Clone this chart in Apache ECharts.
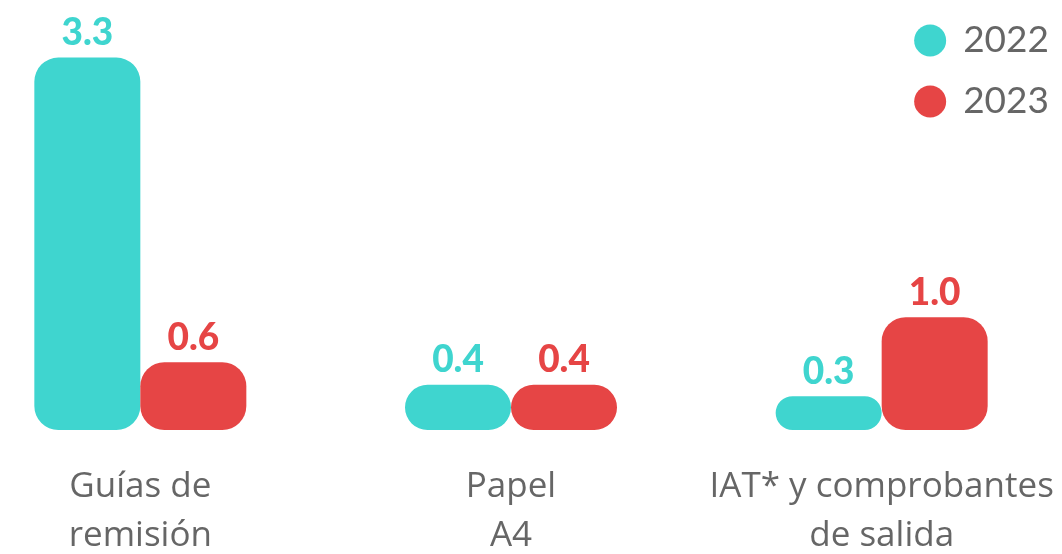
<!DOCTYPE html>
<html>
<head>
<meta charset="utf-8">
<script src="https://cdn.jsdelivr.net/npm/echarts@6/dist/echarts.min.js"></script>
<style>
	html, body { margin: 0; padding: 0; background: #ffffff; }
	#chart { width: 1062px; height: 554px; }
</style>
</head>
<body>
<div id="chart"></div>
<script>
var categories = ['Guías de\nremisión', 'Papel\nA4', 'IAT* y comprobantes\nde salida'];
var seriesNames = ['2022', '2023'];
var values2022 = [3.3, 0.4, 0.3];
var values2023 = [0.6, 0.4, 1.0];

var chartColors = {
	teal: '#3fd5cf',
	red: '#e64545',
	text: '#666666'
};

var chart = echarts.init(document.getElementById('chart'));

function makeSeries(name, data, color) {
	return {
		name: name,
		type: 'bar',
		data: data,
		barWidth: 106,
		barGap: 0,
		itemStyle: {
			color: color,
			borderRadius: 24
		},
		label: {
			show: true,
			position: 'top',
			distance: 6,
			color: color,
			fontFamily: 'Lato',
			fontWeight: 900,
			fontSize: 37,
			formatter: function (p) { return p.value.toFixed(1); }
		}
	};
}

chart.setOption({
	animation: false,
	legend: {
		orient: 'vertical',
		right: 8,
		top: 17,
		icon: 'circle',
		itemWidth: 32,
		itemHeight: 32,
		itemGap: 24,
		textStyle: {
			color: chartColors.text,
			fontFamily: 'Lato',
			fontSize: 37,
			padding: [0, 0, 0, 12]
		},
		data: seriesNames
	},
	grid: {
		left: -45,
		right: -5,
		top: 35,
		bottom: 124,
		containLabel: false,
		outerBoundsMode: 'none'
	},
	xAxis: {
		type: 'category',
		data: categories,
		axisLine: { show: false },
		axisTick: { show: false },
		axisLabel: {
			interval: 0,
			hideOverlap: false,
			margin: 33,
			color: chartColors.text,
			fontFamily: 'Open Sans',
			fontSize: 35,
			lineHeight: 49
		}
	},
	yAxis: {
		type: 'value',
		min: 0,
		max: 3.5,
		show: false
	},
	series: [
		makeSeries(seriesNames[0], values2022, chartColors.teal),
		makeSeries(seriesNames[1], values2023, chartColors.red)
	]
});
</script>
</body>
</html>
